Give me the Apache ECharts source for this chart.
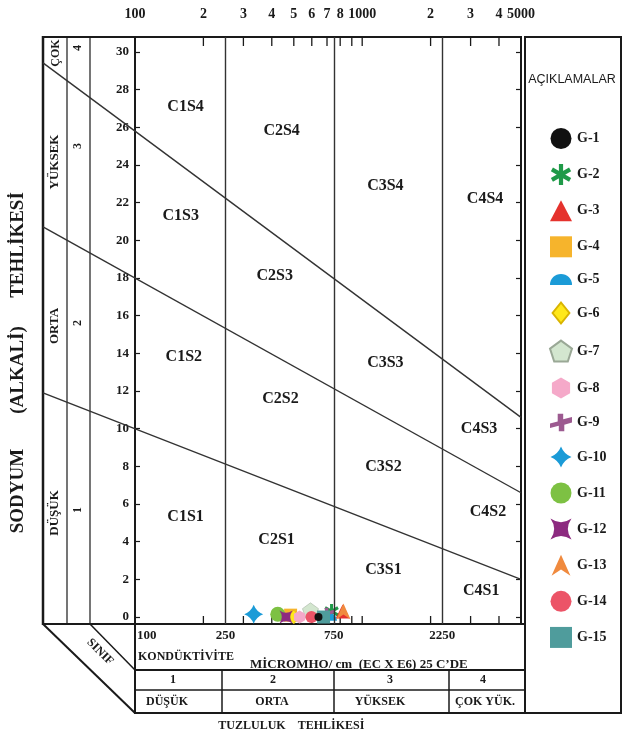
<!DOCTYPE html>
<html>
<head>
<meta charset="utf-8">
<script src="https://cdn.jsdelivr.net/npm/echarts@6/dist/echarts.min.js"></script>
<style>
  html, body { margin: 0; padding: 0; background: #fff; }
  #chart { width: 625px; height: 740px; }
</style>
</head>
<body>
<div id="chart"></div>
<script>
// samples (EC in micromho/cm, SAR)
const sampleNames = ['G-1', 'G-2', 'G-3', 'G-4', 'G-5', 'G-6', 'G-7', 'G-8', 'G-9', 'G-10', 'G-11', 'G-12', 'G-13', 'G-14', 'G-15'];
const ecValues = [642, 733, 820, 484, 718, 500, 592, 530, 700, 333, 425, 462, 827, 598, 676];
const sarValues = [0, 0.3, 0.3, 0.1, 0, 0, 0.35, 0, 0.2, 0.15, 0.15, 0, 0.3, 0, 0];

// class boundaries: salinity (EC) and sodium lines given as [EC, SAR] at both ends of the axis
const salinityBounds = [250, 750, 2250];
const lineS1S2 = [100, 10.0, 5000, 2.0];
const lineS2S3 = [100, 18.0, 5000, 6.6];
const lineS3S4 = [100, 25.8, 5000, 10.6];

// ticks and labels
const topTickValues = [100, 200, 300, 400, 500, 600, 700, 800, 900, 1000, 2000, 3000, 4000, 5000];
const topTickLabels = ['100', '2', '3', '4', '5', '6', '7', '8', '', '1000', '2', '3', '4', '5000'];
const bottomLabelValues = [100, 250, 750, 2250];
const bottomLabels = ['100', '250', '750', '2250'];
const yTickValues = [0, 2, 4, 6, 8, 10, 12, 14, 16, 18, 20, 22, 24, 26, 28, 30];

const regionNames = ['C1S4', 'C2S4', 'C3S4', 'C4S4', 'C1S3', 'C2S3', 'C3S3', 'C4S3',
                     'C1S2', 'C2S2', 'C3S2', 'C4S2', 'C1S1', 'C2S1', 'C3S1', 'C4S1'];
const regionEC = [167, 442, 1265, 3475, 159, 412, 1265, 3270, 164, 437, 1240, 3580, 167, 420, 1240, 3340];
const regionSAR = [27.1, 25.8, 22.9, 22.2, 21.3, 18.1, 13.5, 10.0, 13.8, 11.6, 8.0, 5.6, 5.3, 4.1, 2.5, 1.4];

// marker styles
const sampleColors = ['#111111', '#1f9a48', '#e5322d', '#f6b42c', '#1b9bd7', '#ffe81a', '#d3e6cf', '#f5a9c9',
                      '#9c5a90', '#1b9bd7', '#7dc143', '#8d2a80', '#f08a3e', '#ec5467', '#4f9c9c'];
const sampleSymbols = [
  'circle',
  'path://M-2,-10 L2,-10 L2,10 L-2,10 Z M7.66,-6.73 L9.66,-3.27 L-7.66,6.73 L-9.66,3.27 Z M9.66,3.27 L7.66,6.73 L-9.66,-3.27 L-7.66,-6.73 Z',
  'triangle',
  'rect',
  'path://M-10,5 A10,10 0 0 1 10,5 Z',
  'path://M0,-10 L8,0 L0,10 L-8,0 Z',
  'path://M0,-10 L9.51,-3.09 L5.88,8.09 L-5.88,8.09 L-9.51,-3.09 Z',
  'path://M0,-10 L8.66,-5 L8.66,5 L0,10 L-8.66,5 L-8.66,-5 Z',
  'path://M-10,1 L-3,-1 L-3,-8 L2,-8 L2,-3 L10,-5 L10,0 L3,2 L3,8 L-2,8 L-2,3 L-10,5 Z',
  'path://M0,-10 Q2.8,-2.8 10,0 Q2.8,2.8 0,10 Q-2.8,2.8 -10,0 Q-2.8,-2.8 0,-10 Z',
  'circle',
  'path://M-10,-10 Q0,-3 10,-10 Q3,0 10,10 Q0,3 -10,10 Q-3,0 -10,-10 Z',
  'path://M0,-10 L9,10 L0,4 L-9,10 Z',
  'circle',
  'rect'
];
const sampleSizes = [8, 15, 14, 13, 15, 14, 16, 13, 14, 19, 15, 13, 16, 12, 13];

const yMin = -0.37;
const yMax = 30.8;
const tableLeftX = 43;
const serif = '"Liberation Serif", "Times New Roman", serif';
const ink = '#1a1a1a';

const chart = echarts.init(document.getElementById('chart'));

const sampleSeries = sampleNames.map((name, i) => ({
  name: name,
  type: 'scatter',
  data: [[ecValues[i], sarValues[i]]],
  symbol: sampleSymbols[i],
  symbolSize: sampleSizes[i],
  symbolKeepAspect: true,
  z: name === 'G-1' ? 5 : 3,
  itemStyle: {
    color: sampleColors[i],
    borderColor: name === 'G-7' ? '#9aa896' : (name === 'G-6' ? '#d9b400' : undefined),
    borderWidth: (name === 'G-7' || name === 'G-6') ? 0.5 : 0,
    opacity: 1
  }
}));

function textEl(text, x, y, size, opts) {
  opts = opts || {};
  return {
    type: 'text',
    x: x,
    y: y,
    rotation: opts.rotation || 0,
    silent: true,
    style: {
      text: text,
      font: (opts.weight || 'bold') + ' ' + size + 'px ' + (opts.family || serif),
      fill: ink,
      align: opts.align || 'center',
      textAlign: opts.align || 'center',
      verticalAlign: 'middle',
      textVerticalAlign: 'middle'
    }
  };
}

function lineEl(x1, y1, x2, y2, w) {
  return {
    type: 'line',
    silent: true,
    shape: { x1: x1, y1: y1, x2: x2, y2: y2 },
    style: { stroke: ink, lineWidth: w }
  };
}

const option = {
  animation: false,
  backgroundColor: '#fff',
  grid: {
    left: 135, top: 37, width: 386, height: 587,
    show: true, borderColor: ink, borderWidth: 2, backgroundColor: 'transparent'
  },
  xAxis: {
    type: 'log', logBase: 10, min: 100, max: 5000,
    axisLine: { show: false }, axisTick: { show: false },
    axisLabel: { show: false }, splitLine: { show: false }, minorSplitLine: { show: false }
  },
  yAxis: [{
    type: 'value', min: yMin, max: yMax, position: 'left',
    axisLine: { show: false }, splitLine: { show: false },
    axisTick: { show: true, inside: true, length: 5, customValues: yTickValues, lineStyle: { color: ink, width: 1.2 } },
    axisLabel: { customValues: yTickValues, margin: 6, fontFamily: serif, fontWeight: 'bold', fontSize: 13, color: ink }
  }, {
    type: 'value', min: yMin, max: yMax, position: 'right',
    axisLine: { show: false }, splitLine: { show: false },
    axisTick: { show: true, inside: true, length: 5, customValues: yTickValues, lineStyle: { color: ink, width: 1.2 } },
    axisLabel: { show: false }
  }],
  legend: {
    data: sampleNames,
    orient: 'vertical',
    left: 544, top: 123,
    itemWidth: 22, itemHeight: 21, itemGap: 15.1,
    selectedMode: false,
    textStyle: { fontFamily: serif, fontWeight: 'bold', fontSize: 14, color: ink }
  },
  graphic: [
    // legend box
    { type: 'rect', silent: true, shape: { x: 525, y: 37, width: 96, height: 676 },
      style: { fill: 'none', stroke: ink, lineWidth: 2 } },
    textEl('AÇIKLAMALAR', 572, 80, 12.5, { weight: 'normal', family: '"Liberation Sans", Arial, sans-serif' }),
    // left class table
    lineEl(43, 37, 135, 37, 2),
    lineEl(43, 36, 43, 625, 2.5),
    lineEl(67, 37, 67, 624, 1.2),
    lineEl(90, 37, 90, 624, 1.2),
    lineEl(43, 624, 526, 624, 2),
    lineEl(43, 624, 135, 713, 2),
    lineEl(90, 624, 135, 670, 1.5),
    textEl('ÇOK', 56, 53, 12, { rotation: Math.PI / 2 }),
    textEl('4', 78, 48, 12, { rotation: Math.PI / 2 }),
    textEl('YÜKSEK', 55, 162, 13, { rotation: Math.PI / 2 }),
    textEl('3', 78, 146, 12, { rotation: Math.PI / 2 }),
    textEl('ORTA', 55, 326, 13, { rotation: Math.PI / 2 }),
    textEl('2', 78, 323, 12, { rotation: Math.PI / 2 }),
    textEl('DÜŞÜK', 55, 513, 13, { rotation: Math.PI / 2 }),
    textEl('1', 78, 510, 12, { rotation: Math.PI / 2 }),
    textEl('SODYUM', 18, 491, 19, { rotation: Math.PI / 2 }),
    textEl('(ALKALİ)', 18, 370, 19, { rotation: Math.PI / 2 }),
    textEl('TEHLİKESİ', 18, 245, 19, { rotation: Math.PI / 2 }),
    textEl('SINIF', 100, 652, 12, { rotation: -Math.PI / 4 }),
    // bottom salinity table
    lineEl(135, 624, 135, 713, 2),
    lineEl(135, 670, 526, 670, 2),
    lineEl(135, 690, 526, 690, 1.5),
    lineEl(134, 713, 526, 713, 2),
    lineEl(222, 670, 222, 713, 1.5),
    lineEl(334, 670, 334, 713, 1.5),
    lineEl(449, 670, 449, 713, 1.5),
    textEl('KONDÜKTİVİTE', 138, 657, 12, { align: 'left' }),
    textEl('MİCROMHO/ cm  (EC X E6) 25 C’DE', 250, 665, 13, { align: 'left' }),
    textEl('1', 173, 680, 12),
    textEl('2', 273, 680, 12),
    textEl('3', 390, 680, 12),
    textEl('4', 483, 680, 12),
    textEl('DÜŞÜK', 167, 702, 12),
    textEl('ORTA', 272, 702, 12),
    textEl('YÜKSEK', 380, 702, 12),
    textEl('ÇOK YÜK.', 485, 702, 12),
    textEl('TUZLULUK', 252, 726, 12),
    textEl('TEHLİKESİ', 331, 726, 12)
  ],
  series: [
    {
      // salinity class boundaries
      name: 'salinity',
      type: 'line',
      data: [],
      silent: true,
      markLine: {
        silent: true,
        symbol: ['none', 'none'],
        label: { show: false },
        lineStyle: { color: '#333', width: 1.4, type: 'solid' },
        data: salinityBounds.map(v => ({ xAxis: v }))
      }
    },
    {
      // sodium class boundaries, continued left across the class table
      name: 'sodium',
      type: 'custom',
      silent: true,
      clip: false,
      data: [lineS1S2, lineS2S3, lineS3S4],
      renderItem: (params, api) => {
        const a = api.coord([api.value(0), api.value(1)]);
        const b = api.coord([api.value(2), api.value(3)]);
        const t = (tableLeftX - a[0]) / (b[0] - a[0]);
        const y0 = a[1] + t * (b[1] - a[1]);
        return {
          type: 'polyline',
          shape: { points: [[tableLeftX, y0], b] },
          style: { stroke: '#333', lineWidth: 1.4, fill: null }
        };
      },
      z: 1
    },
    {
      name: 'regions',
      type: 'custom',
      silent: true,
      data: regionNames.map((n, i) => [regionEC[i], regionSAR[i]]),
      renderItem: (params, api) => {
        const p = api.coord([api.value(0), api.value(1)]);
        return {
          type: 'text', x: p[0], y: p[1],
          style: { text: regionNames[params.dataIndex], font: 'bold 16px ' + serif, fill: ink,
                   align: 'center', verticalAlign: 'middle' }
        };
      },
      z: 2
    },
    {
      name: 'topTicks',
      type: 'custom',
      silent: true,
      clip: false,
      data: topTickValues.map(v => [v, 0]),
      renderItem: (params, api) => {
        const v = api.value(0);
        const top = api.coord([v, yMax]);
        const bot = api.coord([v, yMin]);
        return {
          type: 'group',
          children: [
            { type: 'line', shape: { x1: top[0], y1: top[1], x2: top[0], y2: top[1] + 9 },
              style: { stroke: ink, lineWidth: 1.3 } },
            { type: 'line', shape: { x1: bot[0], y1: bot[1], x2: bot[0], y2: bot[1] - 8 },
              style: { stroke: ink, lineWidth: 1.3 } },
            { type: 'text', x: top[0], y: top[1] - 23,
              style: { text: topTickLabels[params.dataIndex], font: 'bold 14px ' + serif, fill: ink,
                       align: 'center', verticalAlign: 'middle' } }
          ]
        };
      }
    },
    {
      name: 'bottomLabels',
      type: 'custom',
      silent: true,
      clip: false,
      data: bottomLabelValues.map(v => [v, 0]),
      renderItem: (params, api) => {
        const p = api.coord([api.value(0), yMin]);
        const first = params.dataIndex === 0;
        return {
          type: 'text', x: first ? p[0] + 2 : p[0], y: p[1] + 12,
          style: { text: bottomLabels[params.dataIndex], font: 'bold 13px ' + serif, fill: ink,
                   align: first ? 'left' : 'center', verticalAlign: 'middle' }
        };
      }
    }
  ].concat(sampleSeries)
};

chart.setOption(option);
</script>
</body>
</html>
